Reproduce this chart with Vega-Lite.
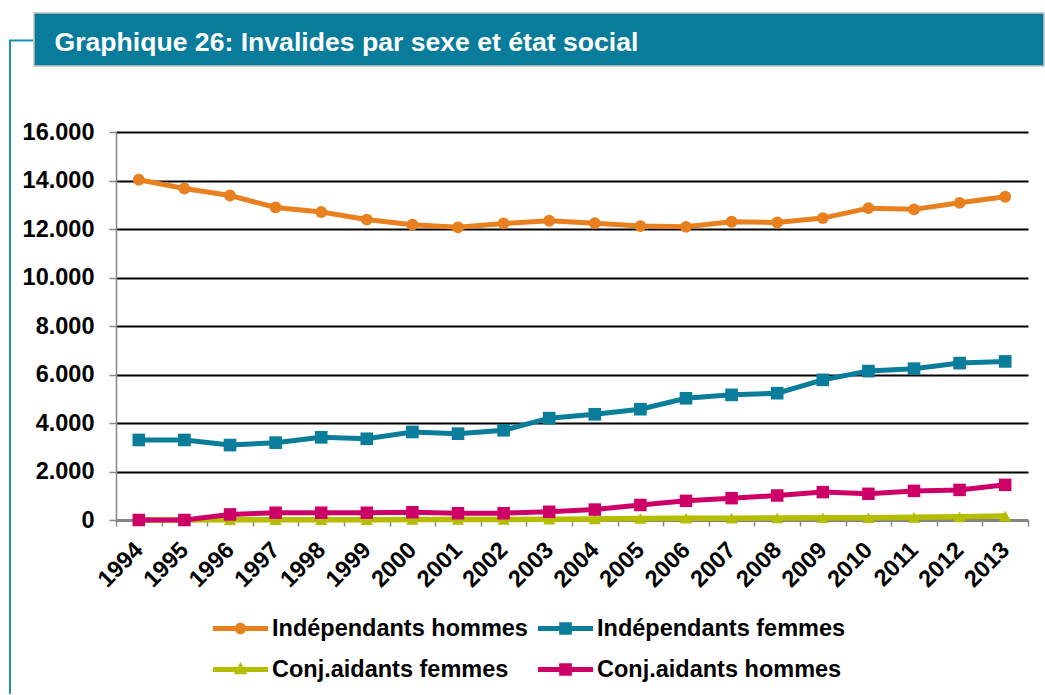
{
  "$schema": "https://vega.github.io/schema/vega-lite/v6.json",
  "padding": {"left": 9, "top": 12, "right": 0, "bottom": 0},
  "background": "white",
  "spacing": -12,
  "config": {
    "font": "Liberation Sans",
    "view": {"stroke": null}
  },
  "datasets": {
    "series": [
      {"year": "1994", "series": "Indépendants hommes", "value": 14030},
      {"year": "1995", "series": "Indépendants hommes", "value": 13670},
      {"year": "1996", "series": "Indépendants hommes", "value": 13380},
      {"year": "1997", "series": "Indépendants hommes", "value": 12890},
      {"year": "1998", "series": "Indépendants hommes", "value": 12700},
      {"year": "1999", "series": "Indépendants hommes", "value": 12390},
      {"year": "2000", "series": "Indépendants hommes", "value": 12180},
      {"year": "2001", "series": "Indépendants hommes", "value": 12070},
      {"year": "2002", "series": "Indépendants hommes", "value": 12230},
      {"year": "2003", "series": "Indépendants hommes", "value": 12340},
      {"year": "2004", "series": "Indépendants hommes", "value": 12240},
      {"year": "2005", "series": "Indépendants hommes", "value": 12120},
      {"year": "2006", "series": "Indépendants hommes", "value": 12090},
      {"year": "2007", "series": "Indépendants hommes", "value": 12300},
      {"year": "2008", "series": "Indépendants hommes", "value": 12270},
      {"year": "2009", "series": "Indépendants hommes", "value": 12450},
      {"year": "2010", "series": "Indépendants hommes", "value": 12860},
      {"year": "2011", "series": "Indépendants hommes", "value": 12810},
      {"year": "2012", "series": "Indépendants hommes", "value": 13080},
      {"year": "2013", "series": "Indépendants hommes", "value": 13330},
      {"year": "1994", "series": "Indépendants femmes", "value": 3300},
      {"year": "1995", "series": "Indépendants femmes", "value": 3300},
      {"year": "1996", "series": "Indépendants femmes", "value": 3090},
      {"year": "1997", "series": "Indépendants femmes", "value": 3190},
      {"year": "1998", "series": "Indépendants femmes", "value": 3410},
      {"year": "1999", "series": "Indépendants femmes", "value": 3350},
      {"year": "2000", "series": "Indépendants femmes", "value": 3630},
      {"year": "2001", "series": "Indépendants femmes", "value": 3560},
      {"year": "2002", "series": "Indépendants femmes", "value": 3700},
      {"year": "2003", "series": "Indépendants femmes", "value": 4200},
      {"year": "2004", "series": "Indépendants femmes", "value": 4360},
      {"year": "2005", "series": "Indépendants femmes", "value": 4570},
      {"year": "2006", "series": "Indépendants femmes", "value": 5020},
      {"year": "2007", "series": "Indépendants femmes", "value": 5160},
      {"year": "2008", "series": "Indépendants femmes", "value": 5230},
      {"year": "2009", "series": "Indépendants femmes", "value": 5780},
      {"year": "2010", "series": "Indépendants femmes", "value": 6140},
      {"year": "2011", "series": "Indépendants femmes", "value": 6240},
      {"year": "2012", "series": "Indépendants femmes", "value": 6470},
      {"year": "2013", "series": "Indépendants femmes", "value": 6540},
      {"year": "1994", "series": "Conj.aidants femmes", "value": 0},
      {"year": "1995", "series": "Conj.aidants femmes", "value": 0},
      {"year": "1996", "series": "Conj.aidants femmes", "value": 15},
      {"year": "1997", "series": "Conj.aidants femmes", "value": 15},
      {"year": "1998", "series": "Conj.aidants femmes", "value": 15},
      {"year": "1999", "series": "Conj.aidants femmes", "value": 15},
      {"year": "2000", "series": "Conj.aidants femmes", "value": 20},
      {"year": "2001", "series": "Conj.aidants femmes", "value": 20},
      {"year": "2002", "series": "Conj.aidants femmes", "value": 25},
      {"year": "2003", "series": "Conj.aidants femmes", "value": 30},
      {"year": "2004", "series": "Conj.aidants femmes", "value": 40},
      {"year": "2005", "series": "Conj.aidants femmes", "value": 65},
      {"year": "2006", "series": "Conj.aidants femmes", "value": 70},
      {"year": "2007", "series": "Conj.aidants femmes", "value": 75},
      {"year": "2008", "series": "Conj.aidants femmes", "value": 85},
      {"year": "2009", "series": "Conj.aidants femmes", "value": 90},
      {"year": "2010", "series": "Conj.aidants femmes", "value": 95},
      {"year": "2011", "series": "Conj.aidants femmes", "value": 110},
      {"year": "2012", "series": "Conj.aidants femmes", "value": 130},
      {"year": "2013", "series": "Conj.aidants femmes", "value": 160},
      {"year": "1994", "series": "Conj.aidants hommes", "value": 0},
      {"year": "1995", "series": "Conj.aidants hommes", "value": 0},
      {"year": "1996", "series": "Conj.aidants hommes", "value": 230},
      {"year": "1997", "series": "Conj.aidants hommes", "value": 300},
      {"year": "1998", "series": "Conj.aidants hommes", "value": 300},
      {"year": "1999", "series": "Conj.aidants hommes", "value": 300},
      {"year": "2000", "series": "Conj.aidants hommes", "value": 320},
      {"year": "2001", "series": "Conj.aidants hommes", "value": 280},
      {"year": "2002", "series": "Conj.aidants hommes", "value": 280},
      {"year": "2003", "series": "Conj.aidants hommes", "value": 340},
      {"year": "2004", "series": "Conj.aidants hommes", "value": 430},
      {"year": "2005", "series": "Conj.aidants hommes", "value": 620},
      {"year": "2006", "series": "Conj.aidants hommes", "value": 790},
      {"year": "2007", "series": "Conj.aidants hommes", "value": 900},
      {"year": "2008", "series": "Conj.aidants hommes", "value": 1010},
      {"year": "2009", "series": "Conj.aidants hommes", "value": 1150},
      {"year": "2010", "series": "Conj.aidants hommes", "value": 1080},
      {"year": "2011", "series": "Conj.aidants hommes", "value": 1200},
      {"year": "2012", "series": "Conj.aidants hommes", "value": 1240},
      {"year": "2013", "series": "Conj.aidants hommes", "value": 1450}
    ]
  },
  "vconcat": [
    {
      "spacing": 0,
      "hconcat": [
        {
          "width": 24,
          "height": 119,
          "data": {"values": [{}]},
          "layer": [
            {
              "mark": {"type": "rule", "color": "#1B8CB2", "strokeWidth": 2, "clip": true},
              "encoding": {
                "x": {"datum": 0, "type": "quantitative", "scale": {"domain": [0, 1]}, "axis": null},
                "x2": {"datum": 1},
                "y": {"datum": 0.769, "type": "quantitative", "scale": {"domain": [0, 1]}, "axis": null}
              }
            },
            {
              "mark": {"type": "rule", "color": "#1B8CB2", "strokeWidth": 2, "clip": true},
              "encoding": {
                "x": {"datum": 0.0417, "type": "quantitative", "scale": {"domain": [0, 1]}, "axis": null},
                "y": {"datum": 0.769, "type": "quantitative", "scale": {"domain": [0, 1]}, "axis": null},
                "y2": {"datum": 0}
              }
            }
          ]
        },
        {
          "width": 1010,
          "height": 53,
          "view": {"fill": "#087C9A", "stroke": "#c4c4c4", "strokeWidth": 1.5},
          "data": {"values": [{"t": "Graphique 26: Invalides par sexe et état social"}]},
          "mark": {"type": "text", "align": "left", "baseline": "alphabetic", "dx": 20.5, "dy": 11.5, "fontSize": 26.6, "fontWeight": "bold", "color": "#ffffff", "font": "Liberation Sans"},
          "encoding": {
            "text": {"field": "t"},
            "x": {"datum": 0, "type": "quantitative", "scale": {"domain": [0, 1]}, "axis": null}
          }
        }
      ]
    },
    {
      "spacing": 0,
      "hconcat": [
        {
          "width": 13,
          "height": 562,
          "data": {"values": [{}]},
          "mark": {"type": "rule", "color": "#1B8CB2", "strokeWidth": 2, "clip": true},
          "encoding": {
            "x": {"datum": 0.077, "type": "quantitative", "scale": {"domain": [0, 1]}, "axis": null}
          }
        },
        {
          "width": 912,
          "height": 388,
          "data": {"name": "series"},
          "encoding": {
            "x": {
              "field": "year", "type": "ordinal",
              "scale": {"type": "band", "paddingInner": 0, "paddingOuter": 0},
              "axis": {
                "title": null, "labelAngle": -45, "labelAlign": "right", "labelBaseline": "middle",
                "labelFontSize": 23.5, "labelFontWeight": "bold", "labelColor": "#000000", "labelFont": "Liberation Sans",
                "labelPadding": 20, "tickSize": 6, "tickColor": "#888888", "tickWidth": 1.5,
                "domainColor": "#888888", "domainWidth": 1.5, "tickBand": "extent", "grid": false, "labelOverlap": false
              }
            },
            "y": {
              "field": "value", "type": "quantitative",
              "scale": {"domain": [0, 16000], "nice": false},
              "axis": {
                "title": null, "values": [0, 2000, 4000, 6000, 8000, 10000, 12000, 14000, 16000],
                "labelExpr": "replace(format(datum.value, ','), ',', '.')",
                "labelFontSize": 23.5, "labelFontWeight": "bold", "labelColor": "#000000", "labelFont": "Liberation Sans",
                "labelPadding": 15, "tickSize": 7, "tickColor": "#888888", "tickWidth": 1.5,
                "domainColor": "#888888", "domainWidth": 1.5,
                "grid": true, "gridColor": "#000000", "gridWidth": 2
              }
            },
            "color": {
              "field": "series", "type": "nominal",
              "scale": {
                "domain": ["Indépendants hommes", "Indépendants femmes", "Conj.aidants femmes", "Conj.aidants hommes"],
                "range": ["#E8801F", "#0A7D9B", "#B5BD00", "#CC0066"]
              },
              "legend": {
                "title": null, "orient": "none", "legendX": 204, "legendY": 588, "columns": 2, "direction": "horizontal",
                "padding": 0, "columnPadding": 10, "rowPadding": 2,
                "symbolSize": 3025, "symbolStrokeWidth": 0, "labelOffset": 4, "labelLimit": 400,
                "labelFontSize": 23.5, "labelFontWeight": "bold", "labelColor": "#000000", "labelFont": "Liberation Sans",
                "encode": {
                  "symbols": {
                    "update": {
                      "shape": {"signal": "datum.value === 'Indépendants hommes' ? 'M-1,-0.09H1V0.09H-1Z M-0.21,0A0.21,0.21,0,1,1,0.21,0A0.21,0.21,0,1,1,-0.21,0Z' : datum.value === 'Conj.aidants femmes' ? 'M-1,-0.09H1V0.09H-1Z M0,-0.27L0.25,0.17H-0.25Z' : 'M-1,-0.09H1V0.09H-1Z M-0.23,-0.23H0.23V0.23H-0.23Z'"},
                      "fill": {"signal": "datum.value === 'Indépendants hommes' ? '#E8801F' : datum.value === 'Indépendants femmes' ? '#0A7D9B' : datum.value === 'Conj.aidants femmes' ? '#B5BD00' : '#CC0066'"},
                      "stroke": {"value": "transparent"},
                      "strokeWidth": {"value": 0},
                      "opacity": {"value": 1}
                    }
                  }
                }
              }
            }
          },
          "layer": [
            {"transform": [{"filter": {"field": "series", "equal": "Indépendants hommes"}}], "mark": {"type": "line", "strokeWidth": 5}},
            {"transform": [{"filter": {"field": "series", "equal": "Indépendants hommes"}}], "mark": {"type": "point", "shape": "circle", "size": 140, "filled": true, "opacity": 1}},
            {"transform": [{"filter": {"field": "series", "equal": "Indépendants femmes"}}], "mark": {"type": "line", "strokeWidth": 5}},
            {"transform": [{"filter": {"field": "series", "equal": "Indépendants femmes"}}], "mark": {"type": "point", "shape": "square", "size": 160, "filled": true, "opacity": 1}},
            {"transform": [{"filter": {"field": "series", "equal": "Conj.aidants femmes"}}], "mark": {"type": "line", "strokeWidth": 5.5}},
            {"transform": [{"filter": {"field": "series", "equal": "Conj.aidants femmes"}}], "mark": {"type": "point", "shape": "triangle-up", "size": 150, "filled": true, "opacity": 1}},
            {"transform": [{"filter": {"field": "series", "equal": "Conj.aidants hommes"}}], "mark": {"type": "line", "strokeWidth": 5}},
            {"transform": [{"filter": {"field": "series", "equal": "Conj.aidants hommes"}}], "mark": {"type": "point", "shape": "square", "size": 156, "filled": true, "opacity": 1}}
          ]
        }
      ]
    }
  ]
}
